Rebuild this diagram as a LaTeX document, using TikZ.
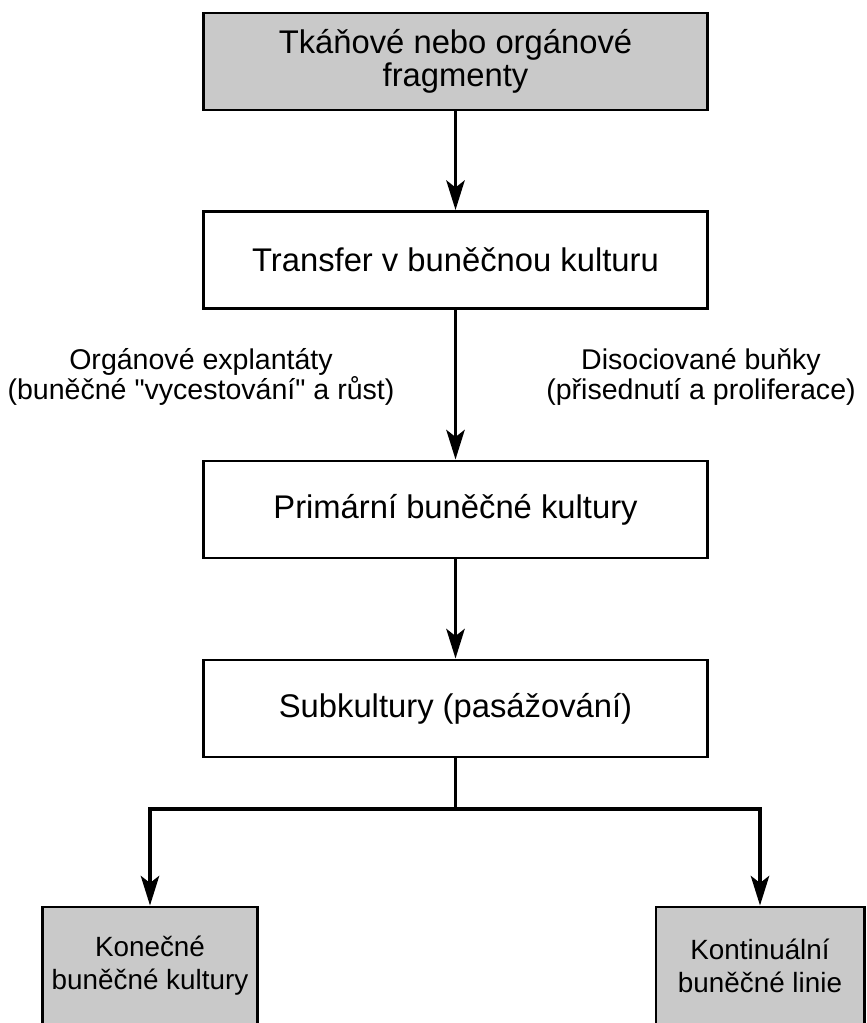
\documentclass[tikz,border=0pt]{standalone}
\usepackage{fontspec}
\newfontfamily\arial{Liberation Sans}
\usetikzlibrary{arrows.meta}

\begin{document}
\begin{tikzpicture}[x=0.025cm,y=-0.025cm,
    box/.style={draw, line width=2.1pt, minimum width=12.575cm, minimum height=2.425cm,
        align=center, inner sep=0pt, font=\arial\fontsize{23.3}{23.5}\selectfont},
    graybox/.style={box, fill=black!21},
    endbox/.style={graybox, minimum height=2.95cm, font=\arial\fontsize{19.8}{23.5}\selectfont},
    note/.style={align=center, font=\arial\fontsize{20.3}{21.3}\selectfont},
    flow/.style={line width=2.8pt, -{Stealth[length=21pt,width=13pt,inset=5pt]}}]

\useasboundingbox (0,0) rectangle (866,1023);

% --- Main column ---
\node[graybox] (frag) at (455.5,61.5) {Tkáňové nebo orgánové\\fragmenty};
\node[box] (transfer) at (455.5,260) {Transfer v buněčnou kulturu};
\node[box] (prim) at (455.5,509.5) {Primární buněčné kultury};
\node[box] (sub) at (455.5,708.5) {Subkultury (pasážování)};

% Side notes
\node[note] (explant) at (201,377) {Orgánové explantáty\\(buněčné "vycestování" a růst)};
\node[note] (disoc) at (701,377) {Disociované buňky\\(přisednutí a proliferace)};

% --- Final cultures ---
\node[endbox, minimum width=5.35cm] (konec) at (150,966) {Konečné\\buněčné kultury};
\node[endbox, minimum width=5.2cm] (linie) at (760,966) {Kontinuální\\buněčné linie};

% Arrows
\draw[flow] (frag) -- (transfer);
\draw[flow] (transfer) -- (prim);
\draw[flow] (prim) -- (sub);

% Split
\coordinate (split) at (455.5,809);
\draw[line width=2.8pt] (sub.south) -- (split);
\draw[flow] (split) -| (konec.north);
\draw[flow] (split) -| (linie.north);

\end{tikzpicture}
\end{document}
